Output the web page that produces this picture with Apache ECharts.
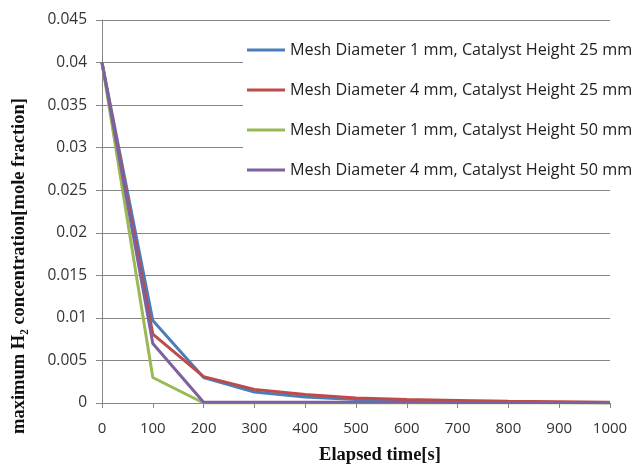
<!DOCTYPE html>
<html><head><meta charset="utf-8">
<script src="https://cdn.jsdelivr.net/npm/echarts@6/dist/echarts.min.js"></script>
<style>html,body{margin:0;padding:0;background:#fff}#c{width:632px;height:465px}</style>
</head><body><div id="c"></div>
<script>
const times = [0, 100, 200, 300, 400, 500, 600, 700, 800, 900, 1000];
const seriesNames = [
  'Mesh Diameter 1 mm, Catalyst Height 25 mm',
  'Mesh Diameter 4 mm, Catalyst Height 25 mm',
  'Mesh Diameter 1 mm, Catalyst Height 50 mm',
  'Mesh Diameter 4 mm, Catalyst Height 50 mm'
];
const d1mm25 = [0.04, 0.0097, 0.003, 0.0013, 0.0007, 0.0004, 0.0002, 0.00012, 0.0001, 0.00005, 0];
const d4mm25 = [0.04, 0.0081, 0.0031, 0.0016, 0.001, 0.0006, 0.0004, 0.0003, 0.0002, 0.00015, 0.0001];
const d1mm50 = [0.04, 0.003, 0, 0, 0, 0, 0, 0, 0, 0, 0];
const d4mm50 = [0.04, 0.007, 0.0001, 0.0001, 0.0001, 0.0001, 0.0001, 0.00005, 0.00005, 0.00005, 0.00005];
const yTicks = [0, 0.005, 0.01, 0.015, 0.02, 0.025, 0.03, 0.035, 0.04, 0.045];
const colors = ['#4a7ebb', '#be4b48', '#98b954', '#7d60a0'];
const allData = [d1mm25, d4mm25, d1mm50, d4mm50];
const xTitle = 'Elapsed time[s]';
const yTitle = 'maximum H\u2082 concentration[mole fraction]';

const chart = echarts.init(document.getElementById('c'), null, {renderer: 'canvas'});
chart.setOption({
  animation: false,
  backgroundColor: '#fff',
  grid: {left: 102, right: 22, top: 20, bottom: 62, containLabel: false, outerBoundsMode: 'none'},
  legend: {
    orient: 'vertical', left: 243, top: 36,
    backgroundColor: '#fff',
    padding: [6, 40, 6, 4],
    icon: 'rect', itemWidth: 38, itemHeight: 3, itemGap: 24,
    textStyle: {fontFamily: 'Open Sans', fontSize: 16.2, color: '#222'},
    data: seriesNames
  },
  graphic: [
    {type: 'text', x: 380, y: 455, style: {text: xTitle, font: 'bold 18.5px "Liberation Serif"', fill: '#111', align: 'center', verticalAlign: 'middle'}},
    {type: 'text', x: 19, y: 266, rotation: Math.PI / 2, style: {text: yTitle, font: 'bold 18.5px "Liberation Serif"', fill: '#111', align: 'center', verticalAlign: 'middle'}}
  ],
  xAxis: {
    type: 'value', min: 0, max: 1000, interval: 100,
    axisLine: {show: true, lineStyle: {color: '#868686', width: 1}},
    axisTick: {show: true, length: 5, lineStyle: {color: '#868686'}},
    axisLabel: {fontFamily: 'Open Sans', fontSize: 15, color: '#333', margin: 18,
      formatter: v => String(v)},
    splitLine: {show: false}
  },
  yAxis: {
    type: 'value', min: 0, max: 0.045, interval: 0.005,
    axisLine: {show: true, lineStyle: {color: '#868686', width: 1}},
    axisTick: {show: true, length: 6, lineStyle: {color: '#868686'}},
    axisLabel: {fontFamily: 'Open Sans', fontSize: 15.5, color: '#333', margin: 15,
      formatter: v => { const t = yTicks.find(x => Math.abs(x - v) < 1e-9); return String(+(t ?? v).toFixed(3)); }},
    splitLine: {show: true, lineStyle: {color: '#868686', width: 1}}
  },
  series: seriesNames.map((n, i) => ({
    name: n, type: 'line', symbol: 'none',
    data: times.map((t, j) => [t, allData[i][j]]),
    lineStyle: {color: colors[i], width: 3},
    itemStyle: {color: colors[i]}
  }))
});
</script></body></html>
